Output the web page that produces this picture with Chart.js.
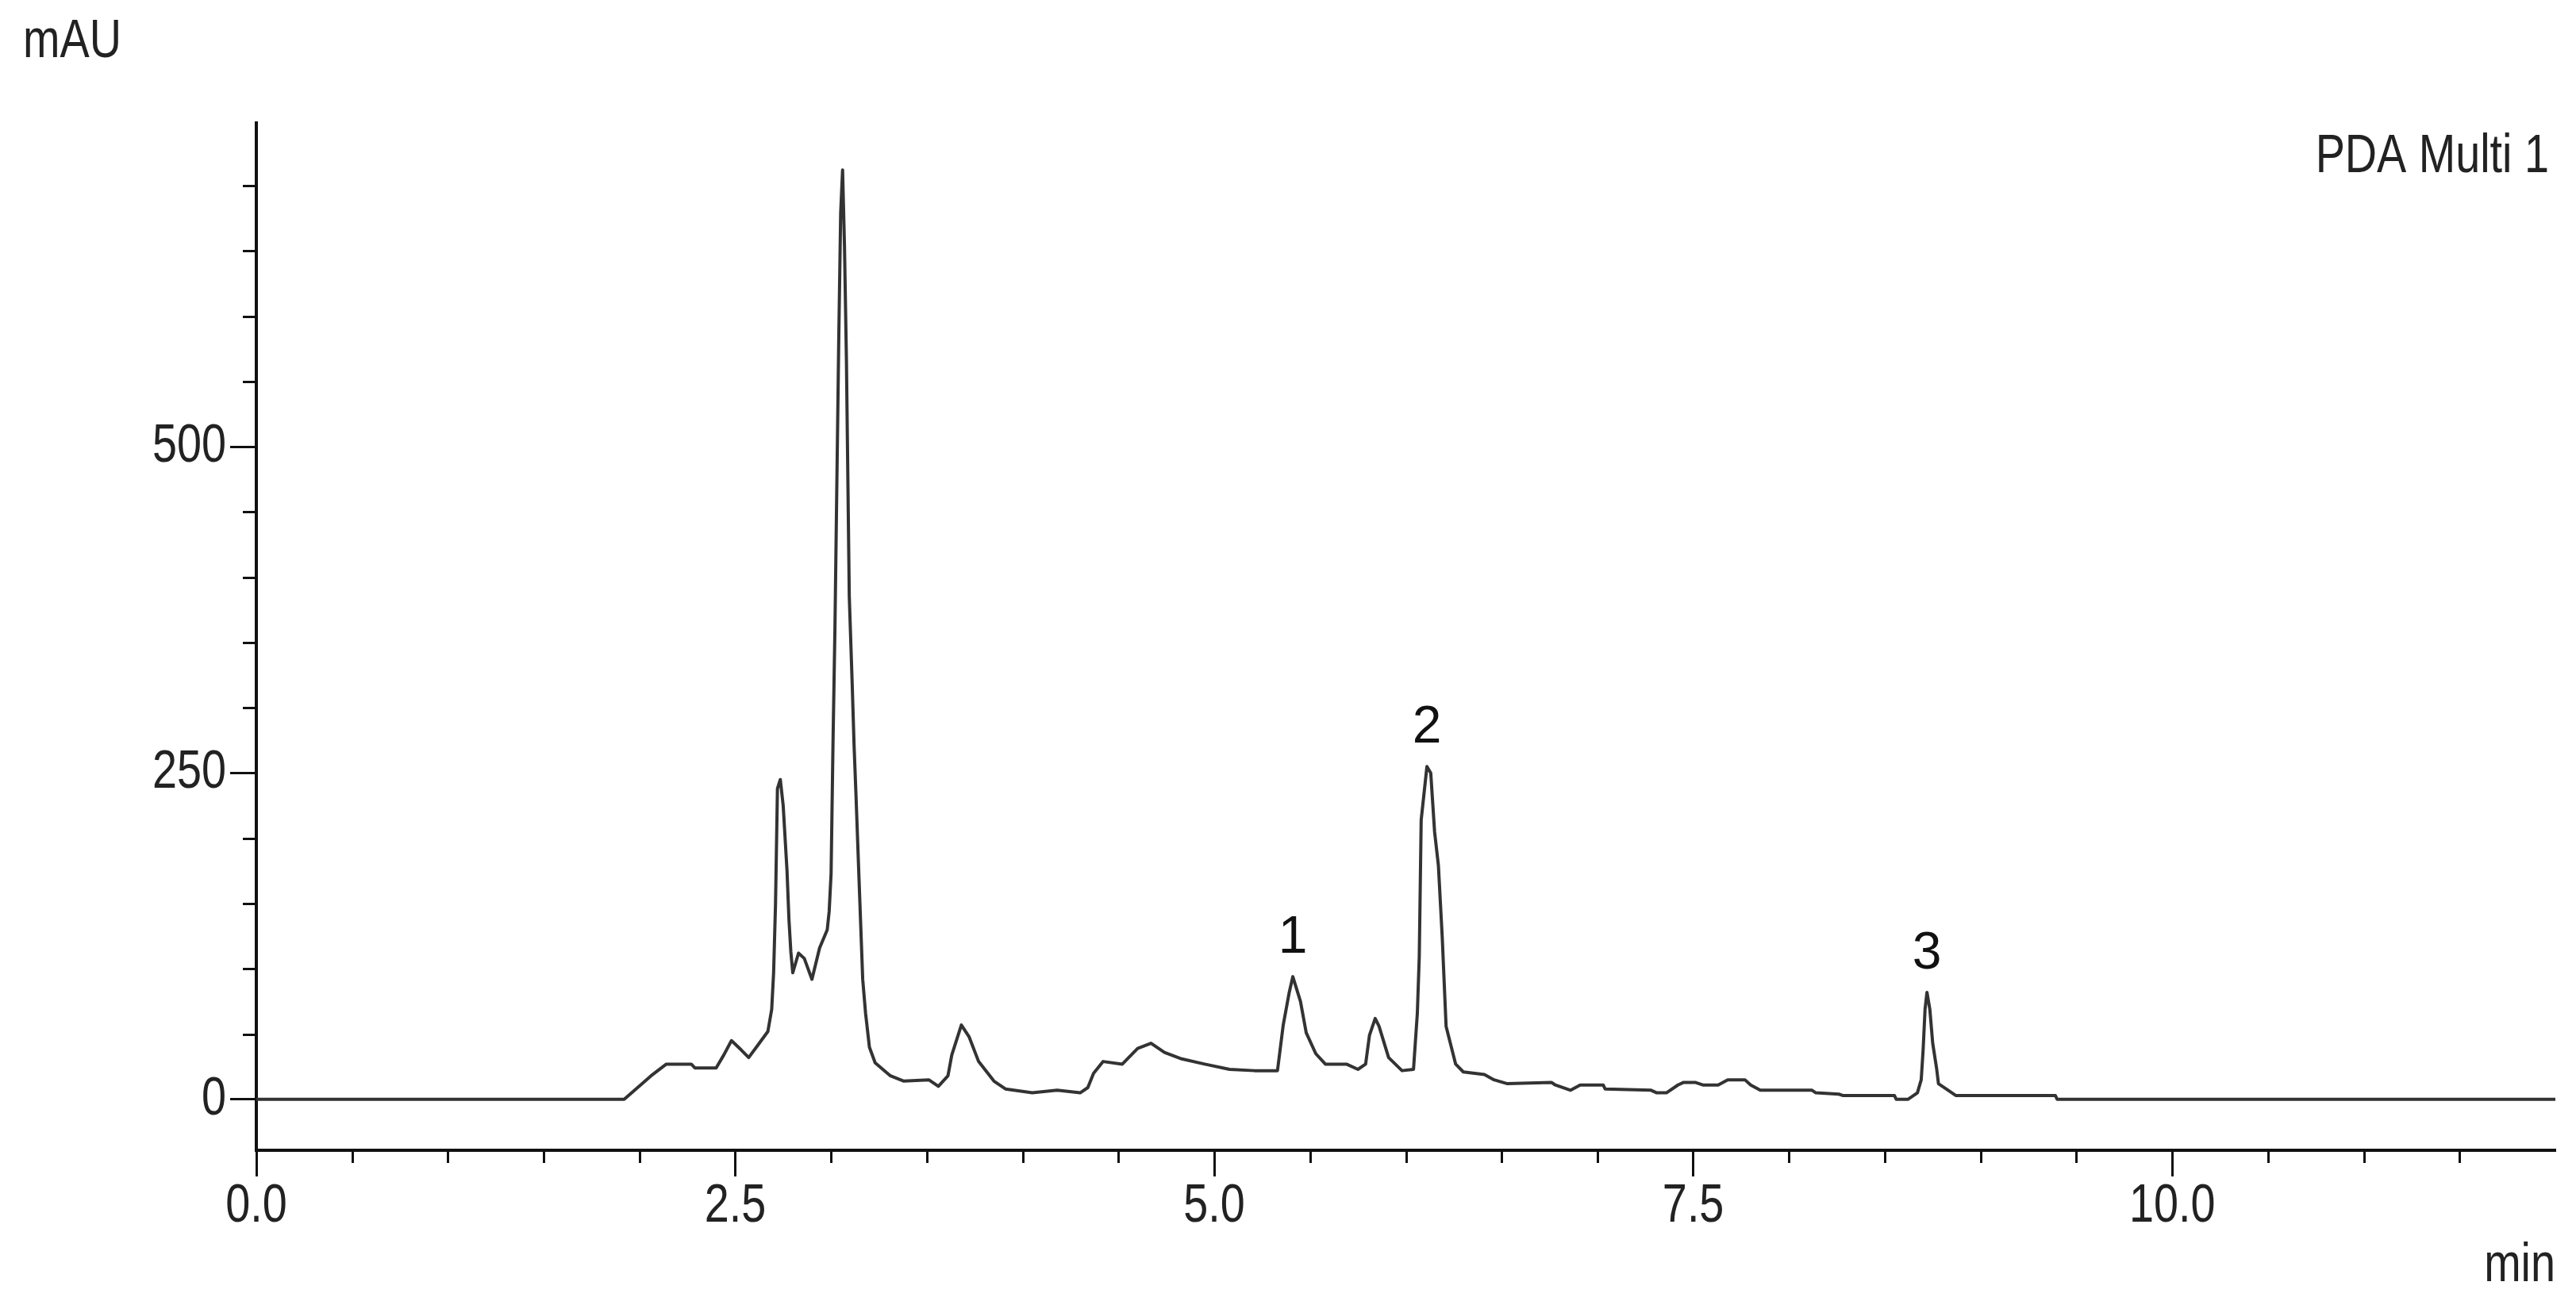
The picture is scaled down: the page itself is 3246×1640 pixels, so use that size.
<!DOCTYPE html>
<html>
<head>
  <meta charset="UTF-8">
  <title>PDA Multi 1</title>
  <script src="https://cdn.jsdelivr.net/npm/chart.js"></script>
  <style>
    body { margin: 0; background: #fff; }
  </style>
</head>
<body>
  <canvas id="chart" width="3246" height="1640"></canvas>

  <script>
    // retention time (min) and absorbance (mAU)
    const times = [
      0, 1.92, 1.99, 2.06, 2.14, 2.27, 2.29, 2.40, 2.44, 2.48, 2.53, 2.57, 2.62, 2.67, 2.69,
      2.70, 2.71, 2.72, 2.735, 2.75, 2.77, 2.78, 2.79, 2.80, 2.83, 2.86, 2.90, 2.94, 2.98, 2.99,
      3.00, 3.01, 3.02, 3.04, 3.05, 3.06, 3.07, 3.08, 3.095, 3.11, 3.12, 3.13, 3.145, 3.165, 3.18,
      3.20, 3.23, 3.31, 3.38, 3.51, 3.56, 3.61, 3.63, 3.68, 3.72, 3.77, 3.85, 3.91, 4.05, 4.18,
      4.30, 4.34, 4.37, 4.42, 4.52, 4.60, 4.67, 4.74, 4.83, 4.95, 5.08, 5.21, 5.33, 5.36, 5.39,
      5.41, 5.45, 5.48, 5.53, 5.58, 5.69, 5.75, 5.79, 5.81, 5.84, 5.86, 5.91, 5.98, 6.04, 6.06,
      6.07, 6.08, 6.11, 6.13, 6.15, 6.17, 6.19, 6.21, 6.26, 6.30, 6.41, 6.46, 6.53, 6.76, 6.78,
      6.86, 6.91, 7.03, 7.04, 7.28, 7.31, 7.36, 7.42, 7.45, 7.51, 7.55, 7.63, 7.68, 7.77, 7.80,
      7.85, 8.12, 8.14, 8.26, 8.28, 8.55, 8.56, 8.62, 8.64, 8.67, 8.69, 8.70, 8.71, 8.72, 8.735,
      8.75, 8.77, 8.78, 8.82, 8.87, 9.39, 9.40, 12.0
    ];
    const absorbance = [
      0, 0, 9, 18, 27, 27, 24, 24, 34, 45, 38, 32, 42, 52, 69,
      97, 150, 238, 245, 225, 175, 138, 113, 97, 112, 108, 92, 116, 130, 144,
      173, 273, 360, 582, 679, 712, 653, 567, 385, 319, 271, 233, 172, 92, 66,
      40, 28, 18, 14, 15, 10, 18, 34, 57, 48, 29, 14, 8, 5, 7,
      5, 9, 20, 29, 27, 39, 43, 36, 31, 27, 23, 22, 22, 57, 81,
      94, 75, 51, 35, 27, 27, 23, 27, 49, 62, 56, 32, 22, 23, 66,
      109, 214, 255, 250, 205, 179, 124, 56, 27, 21, 19, 15, 12, 13, 11,
      7, 11, 11, 8, 7, 5, 5, 11, 13, 13, 11, 11, 15, 15, 11,
      7, 7, 5, 4, 3, 3, 0, 0, 2, 5, 15, 38, 69, 82, 69,
      43, 24, 12, 8, 3, 3, 0, 0
    ];

    // numbered peaks
    const peakNames = ['1', '2', '3'];
    const peakTimes = [5.41, 6.11, 8.72];
    const peakHeights = [94, 255, 82];

    // tick labels (major ticks every 2.5 min / 250 mAU)
    const xTickLabels = ['0.0', '2.5', '5.0', '7.5', '10.0'];
    const yTickLabels = ['0', '250', '500'];

    const font = '"Liberation Sans", Arial, sans-serif';

    const isMajorX = v => Math.abs(v / 2.5 - Math.round(v / 2.5)) < 1e-6;
    const isMajorY = v => v % 250 === 0;

    // the instrument software prints its axis texts squeezed sideways
    function squeezed(ctx, text, x, y, align, baseline) {
      ctx.save();
      ctx.translate(x, y);
      ctx.scale(0.82, 1);
      ctx.textAlign = align;
      ctx.textBaseline = baseline;
      ctx.fillText(text, 0, 0);
      ctx.restore();
    }

    // minor tick marks, tick labels and free texts
    const extras = {
      id: 'extras',
      afterDraw(chart) {
        const { ctx, chartArea, scales } = chart;
        ctx.save();
        ctx.strokeStyle = '#111';
        ctx.lineWidth = 3;
        ctx.beginPath();
        scales.x.ticks.forEach(t => {
          if (isMajorX(t.value) || t.value >= scales.x.max) return;
          const px = Math.round(scales.x.getPixelForValue(t.value)) + 0.5;
          ctx.moveTo(px, chartArea.bottom);
          ctx.lineTo(px, chartArea.bottom + 16);
        });
        scales.y.ticks.forEach(t => {
          if (isMajorY(t.value)) return;
          const py = Math.round(scales.y.getPixelForValue(t.value)) + 0.5;
          ctx.moveTo(chartArea.left, py);
          ctx.lineTo(chartArea.left - 17, py);
        });
        ctx.stroke();

        ctx.fillStyle = '#222';
        ctx.font = '68px ' + font;
        xTickLabels.forEach((lab, i) => {
          squeezed(ctx, lab, scales.x.getPixelForValue(i * 2.5), chartArea.bottom + 71, 'center', 'middle');
        });
        yTickLabels.forEach((lab, i) => {
          squeezed(ctx, lab, chartArea.left - 38, scales.y.getPixelForValue(i * 250), 'right', 'middle');
        });
        squeezed(ctx, 'mAU', 29, 72, 'left', 'alphabetic');
        squeezed(ctx, 'PDA Multi 1', 3212, 217, 'right', 'alphabetic');
        squeezed(ctx, 'min', chartArea.right, 1615, 'right', 'alphabetic');

        ctx.fillStyle = '#111';
        ctx.font = '66px ' + font;
        ctx.textAlign = 'center';
        ctx.textBaseline = 'alphabetic';
        peakNames.forEach((n, i) => {
          const x = scales.x.getPixelForValue(peakTimes[i]);
          const y = scales.y.getPixelForValue(peakHeights[i]) - 30;
          ctx.fillText(n, x, y);
        });
        ctx.restore();
      }
    };

    const ctx = document.getElementById('chart').getContext('2d');
    new Chart(ctx, {
      type: 'line',
      data: {
        datasets: [{
          data: times.map((t, i) => ({ x: t, y: absorbance[i] })),
          borderColor: '#333',
          borderWidth: 4,
          borderJoinStyle: 'round',
          pointRadius: 0,
          tension: 0,
          fill: false
        }]
      },
      options: {
        responsive: false,
        animation: false,
        layout: { padding: { top: 155, right: 26, bottom: 0, left: 0 } },
        plugins: { legend: { display: false }, tooltip: { enabled: false } },
        scales: {
          x: {
            type: 'linear',
            min: 0,
            max: 12,
            afterFit: s => { s.height = 190; },
            border: { display: true, color: '#111', width: 4 },
            grid: {
              display: true,
              drawOnChartArea: false,
              drawTicks: true,
              tickLength: 33,
              tickWidth: 3,
              tickColor: c => isMajorX(c.tick.value) ? '#111' : 'rgba(0,0,0,0)'
            },
            ticks: { display: false, stepSize: 0.5, autoSkip: false }
          },
          y: {
            min: -39,
            max: 748,
            afterFit: s => { s.width = 323; },
            border: { display: true, color: '#111', width: 4 },
            grid: {
              display: true,
              drawOnChartArea: false,
              drawTicks: true,
              tickLength: 33,
              tickWidth: 3,
              tickColor: c => isMajorY(c.tick.value) ? '#111' : 'rgba(0,0,0,0)'
            },
            ticks: { display: false, stepSize: 50, includeBounds: false, autoSkip: false }
          }
        }
      },
      plugins: [extras]
    });
  </script>
</body>
</html>
